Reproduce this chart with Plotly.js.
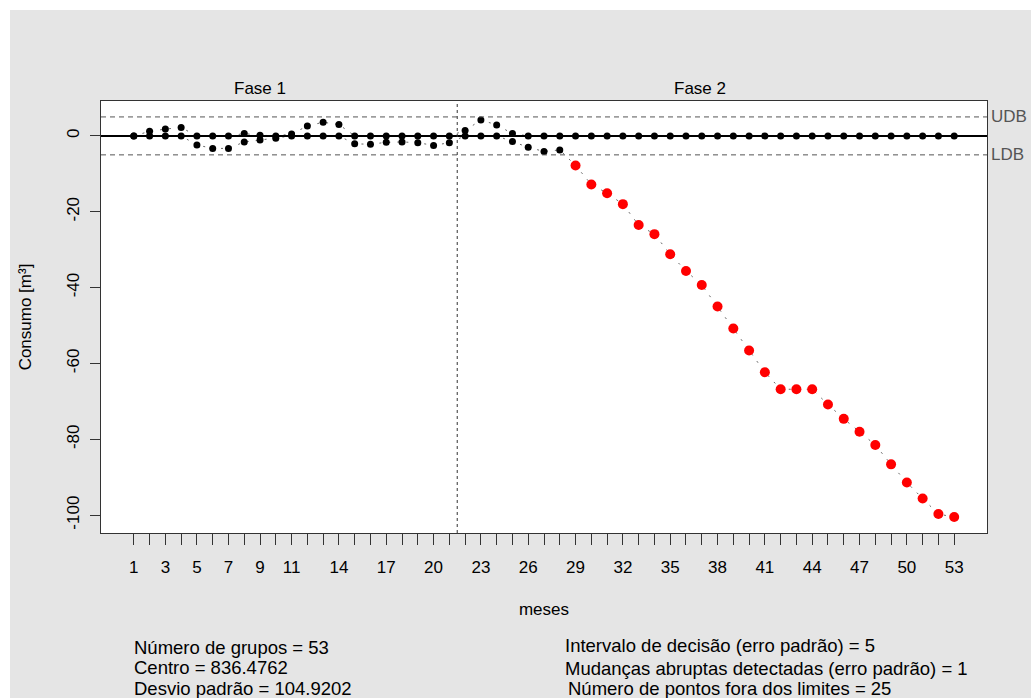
<!DOCTYPE html>
<html>
<head>
<meta charset="utf-8">
<script src="https://cdn.plot.ly/plotly-3.0.1.min.js"></script>
<style>
html, body { margin: 0; padding: 0; background: #ffffff; }
#chart { position: absolute; left: 10px; top: 10px; width: 1021px; height: 688px; }
</style>
</head>
<body>
<div id="chart"></div>
<script>
// ---- data ----
var meses = [];
for (var i = 1; i <= 53; i++) meses.push(i);
var cusumPos = [0, 1.2, 1.8, 2.2, 0, 0, 0, 0.6, 0.2, 0, 0.5, 2.6, 3.6, 3.0, 0, 0, 0, 0, 0, 0, 0,
  1.4, 4.2, 2.9, 0.6, 0, 0, 0, 0, 0, 0, 0, 0, 0, 0, 0, 0, 0, 0, 0, 0, 0, 0, 0, 0, 0, 0, 0, 0, 0, 0, 0, 0];
var cusumNeg = [0, 0, 0, 0, -2.4, -3.3, -3.3, -1.6, -1.1, -0.6, 0, 0, 0, 0, -2.1, -2.2, -1.7, -1.6, -1.8, -2.5, -1.8,
  0, 0, 0, -1.5, -3.0, -4.1, -3.7, -7.8, -12.8, -15.1, -18.0, -23.5, -25.9, -31.2, -35.6, -39.3, -45.0,
  -50.8, -56.6, -62.3, -66.8, -66.8, -66.8, -70.8, -74.6, -78.0, -81.5, -86.6, -91.4, -95.6, -99.7, -100.5];
var decisionInterval = 5;
var phaseLabels = ["Fase 1", "Fase 2"];
var phaseBreak = 21.5;
var xTickLabels = [1, 3, 5, 7, 9, 11, 14, 17, 20, 23, 26, 29, 32, 35, 38, 41, 44, 47, 50, 53];
var yTicks = [0, -20, -40, -60, -80, -100];
var statsLeft = ["Número de grupos = 53", "Centro = 836.4762", "Desvio padrão = 104.9202"];
var statsRight = ["Intervalo de decisão (erro padrão) = 5", "Mudanças abruptas detectadas (erro padrão) = 1", "Número de pontos fora dos limites = 25"];

// ---- geometry (page pixels) ----
var DIVX = 10, DIVY = 10, W = 1021, H = 688;
var ML = 91, MT = 91, PW = 886, PH = 432;
var MR = W - ML - PW, MB = H - MT - PH;
function px(x) { return (x - DIVX - ML) / PW; }
function py(y) { return 1 - (y - DIVY - MT) / PH; }

var FONT = "Liberation Sans, Arial, Helvetica, sans-serif";

function colors(arr) { return arr.map(function (v) { return Math.abs(v) > decisionInterval ? "#ff0000" : "#000000"; }); }
function sizes(arr) { return arr.map(function (v) { return Math.abs(v) > decisionInterval ? 10 : 7; }); }

var traces = [
  { x: meses, y: cusumPos, type: "scatter", mode: "lines", line: { color: "#000", width: 0.6, dash: "2px,7px" }, hoverinfo: "skip", showlegend: false },
  { x: meses, y: cusumNeg, type: "scatter", mode: "lines", line: { color: "#000", width: 0.6, dash: "2px,7px" }, hoverinfo: "skip", showlegend: false },
  { x: meses, y: cusumPos, type: "scatter", mode: "markers", name: "Cusum +",
    marker: { color: colors(cusumPos), size: sizes(cusumPos), opacity: 1, line: { width: 0 } }, showlegend: false },
  { x: meses, y: cusumNeg, type: "scatter", mode: "markers", name: "Cusum -",
    marker: { color: colors(cusumNeg), size: sizes(cusumNeg), opacity: 1, line: { width: 0 } }, showlegend: false }
];

var tickText = meses.map(function (m) { return xTickLabels.indexOf(m) >= 0 ? String(m) : ""; });

var annotations = [
  { text: phaseLabels[0], x: px(260), y: py(88), xref: "paper", yref: "paper", showarrow: false, xanchor: "center", yanchor: "middle", font: { size: 17, color: "#000" } },
  { text: phaseLabels[1], x: px(700), y: py(88), xref: "paper", yref: "paper", showarrow: false, xanchor: "center", yanchor: "middle", font: { size: 17, color: "#000" } },
  { text: "UDB", x: px(989), y: decisionInterval, xref: "paper", yref: "y", showarrow: false, xanchor: "left", yanchor: "middle", font: { size: 17, color: "#555" } },
  { text: "LDB", x: px(989), y: -decisionInterval, xref: "paper", yref: "y", showarrow: false, xanchor: "left", yanchor: "middle", font: { size: 17, color: "#555" } }
];
var leftY = [647, 667, 688];
var rightX = [563, 563, 566];
var rightY = [645, 668, 688];
statsLeft.forEach(function (t, i) {
  annotations.push({ text: t, x: px(132), y: py(leftY[i]), xref: "paper", yref: "paper", showarrow: false, xanchor: "left", yanchor: "middle", font: { size: 18.5, color: "#000" } });
});
statsRight.forEach(function (t, i) {
  annotations.push({ text: t, x: px(rightX[i]), y: py(rightY[i]), xref: "paper", yref: "paper", showarrow: false, xanchor: "left", yanchor: "middle", font: { size: 18.5, color: "#000" } });
});

var shapes = [
  { type: "line", xref: "paper", x0: 0, x1: 1, yref: "y", y0: decisionInterval, y1: decisionInterval, line: { color: "#555", width: 1, dash: "5px,4px" } },
  { type: "line", xref: "paper", x0: 0, x1: 1, yref: "y", y0: -decisionInterval, y1: -decisionInterval, line: { color: "#555", width: 1, dash: "5px,4px" } },
  { type: "line", xref: "paper", x0: 0, x1: 1, yref: "y", y0: 0, y1: 0, line: { color: "#000", width: 2 }, layer: "below" },
  { type: "line", xref: "x", x0: phaseBreak, x1: phaseBreak, yref: "paper", y0: 0, y1: 1, line: { color: "#333", width: 1, dash: "dot" } }
];

var layout = {
  width: W, height: H,
  margin: { l: ML, r: MR, t: MT, b: MB, pad: 0 },
  paper_bgcolor: "#e5e5e5",
  plot_bgcolor: "#ffffff",
  font: { family: FONT, size: 17, color: "#000" },
  showlegend: false,
  xaxis: {
    range: [-1.08, 55.08], autorange: false,
    tickmode: "array", tickvals: meses, ticktext: tickText,
    ticks: "outside", ticklen: 11, tickwidth: 1, tickcolor: "#333",
    ticklabelstandoff: 8,
    showgrid: false, zeroline: false,
    showline: true, mirror: true, linecolor: "#333", linewidth: 1,
    tickfont: { size: 17 },
    title: { text: "meses", font: { size: 17 }, standoff: 26 },
    automargin: false
  },
  yaxis: {
    range: [-104.7, 9.2], autorange: false,
    tickmode: "array", tickvals: yTicks, ticktext: yTicks.map(String),
    tickangle: -90,
    ticks: "outside", ticklen: 10, tickwidth: 1, tickcolor: "#333",
    ticklabelstandoff: 4,
    showgrid: false, zeroline: false,
    showline: true, mirror: true, linecolor: "#333", linewidth: 1,
    tickfont: { size: 17 },
    title: { text: "Consumo [m³]", font: { size: 17 }, standoff: 28 },
    automargin: false
  },
  shapes: shapes,
  annotations: annotations
};

Plotly.newPlot("chart", traces, layout, { displayModeBar: false, staticPlot: true });
</script>
</body>
</html>
